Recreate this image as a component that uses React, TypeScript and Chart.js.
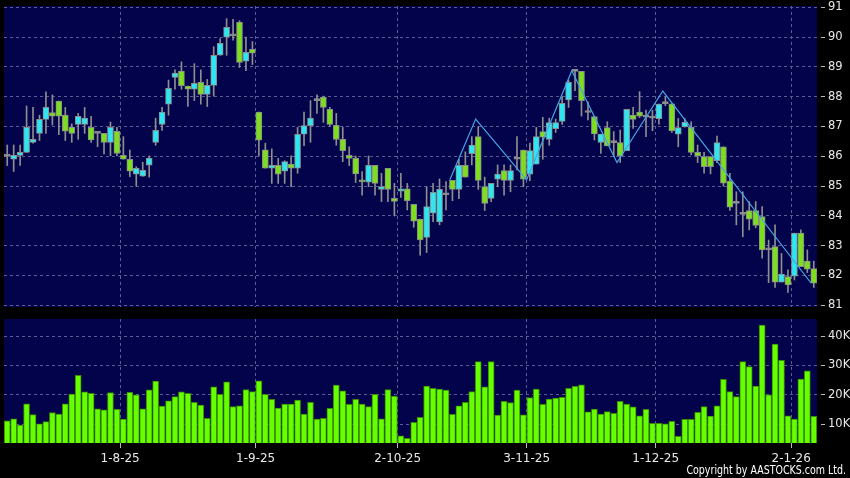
import React, { useEffect, useRef } from 'react';
import { Chart, registerables } from 'chart.js';

Chart.register(...registerables);

// ---- data (one entry per trading day, 8 Jul 2025 .. 7 Jan 2026) ----
const opens = [
  86.00, 85.90, 86.03, 86.13, 86.47, 86.77, 87.24, 87.47, 87.85, 87.38,
  86.97, 87.07, 87.07, 86.97, 86.77, 86.77, 86.47, 86.84, 86.03, 85.90,
  85.40, 85.33, 85.70, 86.47, 87.07, 87.75, 88.65, 88.86, 88.36, 88.25,
  88.48, 88.08, 88.38, 89.39, 90.00, 90.04, 90.50, 89.19, 89.59, 87.48,
  86.22, 85.60, 85.70, 85.50, 85.74, 85.60, 86.74, 87.03, 87.87, 87.99,
  87.58, 87.04, 86.57, 86.03, 85.93, 85.20, 85.13, 85.70, 84.89, 85.60,
  84.59, 84.83, 84.91, 84.39, 83.89, 83.28, 84.09, 83.80, 84.71, 85.19,
  84.89, 85.70, 86.09, 86.66, 84.98, 84.59, 85.23, 85.52, 85.19, 85.90,
  86.21, 85.40, 85.74, 86.83, 86.57, 86.93, 87.17, 87.89, 88.85, 88.85,
  87.47, 87.33, 86.47, 86.96, 86.46, 86.46, 86.19, 87.38, 87.48, 87.31,
  87.28, 87.26, 87.77, 87.76, 86.74, 86.99, 86.97, 86.13, 85.99, 85.99,
  85.85, 86.32, 85.17, 84.42, 84.05, 84.18, 84.18, 83.98, 82.86, 82.97,
  81.78, 81.96, 81.98, 83.42, 82.48, 82.23,
];
const highs = [
  86.38, 86.38, 86.38, 87.69, 87.64, 87.38, 88.16, 88.06, 87.85, 87.64,
  87.09, 87.44, 87.64, 87.34, 86.77, 86.77, 87.15, 86.97, 86.66, 86.21,
  85.65, 85.80, 86.01, 87.28, 87.64, 88.56, 88.90, 89.17, 88.36, 89.11,
  88.90, 88.58, 89.68, 89.95, 90.62, 90.60, 90.55, 90.00, 89.85, 87.48,
  86.44, 86.25, 85.93, 85.85, 86.02, 86.97, 87.48, 87.87, 88.06, 88.02,
  87.64, 87.44, 86.97, 86.32, 86.01, 85.49, 86.01, 85.70, 85.43, 85.60,
  85.09, 85.43, 85.09, 84.39, 83.89, 84.98, 85.09, 85.24, 85.15, 85.19,
  85.90, 86.15, 86.66, 87.00, 85.30, 85.09, 85.71, 85.71, 85.71, 86.66,
  86.21, 86.44, 86.97, 87.31, 87.28, 87.25, 88.00, 88.56, 88.90, 88.85,
  87.83, 87.33, 86.75, 87.16, 86.83, 86.88, 87.58, 87.64, 88.17, 87.55,
  87.55, 87.75, 88.00, 87.76, 87.27, 87.27, 87.16, 86.38, 86.13, 85.99,
  86.68, 86.32, 85.43, 84.81, 84.81, 84.48, 84.48, 84.31, 83.19, 83.70,
  82.74, 82.19, 83.42, 83.53, 82.86, 82.48,
];
const lows = [
  85.69, 85.49, 85.69, 86.13, 86.44, 86.53, 86.77, 87.05, 86.73, 86.53,
  86.47, 86.57, 86.77, 86.47, 86.32, 86.08, 86.02, 86.02, 85.90, 85.32,
  85.00, 85.33, 85.30, 86.37, 86.87, 87.38, 88.25, 88.25, 87.67, 87.87,
  87.75, 87.67, 88.02, 89.39, 89.39, 89.90, 88.98, 88.87, 89.08, 86.01,
  85.60, 85.09, 85.09, 85.09, 84.98, 85.43, 86.36, 86.47, 87.44, 87.14,
  87.02, 86.37, 85.82, 85.69, 85.12, 84.70, 84.98, 84.70, 84.48, 84.48,
  84.00, 84.62, 84.20, 83.62, 82.68, 82.77, 83.81, 83.70, 84.20, 84.51,
  84.58, 85.30, 85.71, 84.89, 84.18, 84.48, 84.98, 84.70, 84.81, 85.54,
  84.98, 85.18, 85.74, 85.90, 86.37, 86.80, 87.07, 87.64, 88.20, 87.35,
  87.22, 86.55, 86.10, 86.35, 85.99, 85.79, 86.19, 86.94, 87.30, 86.66,
  86.86, 87.08, 87.70, 86.80, 86.32, 86.98, 86.05, 85.79, 85.43, 85.41,
  85.79, 85.00, 84.18, 83.70, 83.30, 83.53, 83.60, 82.58, 81.76, 81.60,
  81.78, 81.43, 81.85, 82.30, 82.10, 81.60,
];
const closes = [
  86.00, 86.03, 86.13, 86.97, 86.57, 87.24, 87.64, 87.35, 87.35, 86.84,
  86.77, 87.34, 87.28, 86.55, 86.77, 86.47, 86.97, 86.10, 85.90, 85.50,
  85.60, 85.53, 85.94, 86.87, 87.48, 88.28, 88.79, 88.37, 88.25, 88.45,
  88.08, 88.38, 89.39, 89.79, 90.33, 90.04, 89.15, 89.49, 89.46, 86.54,
  85.60, 85.70, 85.40, 85.82, 85.60, 86.74, 87.03, 87.28, 87.87, 87.64,
  87.07, 86.57, 86.19, 85.93, 85.41, 85.14, 85.70, 85.09, 84.98, 84.89,
  84.49, 84.91, 84.51, 83.82, 83.19, 84.31, 84.79, 84.89, 84.71, 84.89,
  85.70, 85.30, 86.38, 85.19, 84.42, 85.09, 85.40, 85.19, 85.52, 85.90,
  85.23, 86.19, 86.66, 86.64, 87.13, 87.13, 87.78, 88.48, 88.85, 87.87,
  87.47, 86.75, 86.75, 86.35, 86.46, 86.01, 87.58, 87.24, 87.35, 87.31,
  87.28, 87.75, 87.77, 86.86, 86.96, 87.14, 86.13, 86.01, 85.65, 85.65,
  86.46, 85.10, 84.29, 84.42, 84.05, 83.89, 83.68, 82.86, 82.86, 81.78,
  82.05, 81.68, 83.42, 82.30, 82.21, 81.74,
];
// volume in thousands
const volumes = [
  11.2, 11.9, 9.7, 17.0, 13.3, 10.2, 10.9, 14.0, 13.5, 17.0,
  20.3, 26.6, 21.0, 20.5, 15.3, 14.9, 20.8, 15.1, 11.8, 20.9,
  20.0, 15.3, 21.7, 24.7, 16.2, 18.0, 19.4, 21.0, 20.5, 17.5,
  16.5, 12.0, 22.7, 20.2, 24.4, 16.0, 16.3, 21.8, 21.1, 24.8,
  20.2, 18.5, 15.5, 16.9, 16.9, 18.2, 13.5, 17.5, 11.8, 12.0,
  15.4, 23.3, 21.4, 16.8, 18.5, 16.9, 16.0, 20.2, 11.9, 21.8,
  19.6, 6.1, 5.2, 10.7, 12.4, 23.0, 22.2, 22.0, 21.6, 13.4,
  16.3, 17.5, 21.1, 31.3, 22.7, 31.3, 13.1, 17.8, 17.4, 21.6,
  13.2, 19.1, 22.0, 16.8, 18.6, 18.9, 19.2, 22.2, 22.9, 23.4,
  14.2, 15.2, 13.5, 14.3, 13.7, 17.8, 16.9, 15.9, 12.9, 15.1,
  10.3, 10.3, 10.2, 11.0, 5.9, 11.7, 11.7, 14.1, 16.0, 12.8,
  16.3, 25.3, 21.1, 19.4, 31.3, 29.6, 23.0, 43.7, 20.0, 37.3,
  31.7, 12.9, 11.8, 25.4, 28.2, 12.7,
];
// zigzag overlay (bar position, price)
const zigX = [68.6, 72.6, 80.5, 87.5, 94.5, 101.6, 124.6];
const zigY = [85.21, 87.25, 85.21, 88.87, 85.79, 88.19, 81.74];

// first trading day of each month (bar index) and its label
const monthStarts = [18, 39, 61, 81, 101, 122];
const monthLabels = ['1-8-25', '1-9-25', '2-10-25', '3-11-25', '1-12-25', '2-1-26'];
const priceTicks = [81, 82, 83, 84, 85, 86, 87, 88, 89, 90, 91];
const volumeTicks = [10, 20, 30, 40];

// ---- styles ----
const BG = '#03034b';
const GRID = '#5b5b96';
const UP = '#2fe6f0';
const DOWN = '#7ddd1f';
const FLAT = '#9a9a9a';
const WICK = '#8e8e8e';
const EDGE = '#8c8c8c';
const TXT = '#e8e8e8';

Chart.defaults.font.family = "'DejaVu Sans', sans-serif";
Chart.defaults.font.size = 12;

const plotBg = {
  id: 'plotBg',
  beforeDraw(chart: any) {
    const { ctx, chartArea: a } = chart;
    ctx.save();
    ctx.fillStyle = BG;
    ctx.fillRect(a.left, a.top, a.right - a.left, a.bottom - a.top);
    ctx.restore();
  },
};

const N = opens.length;

function noOverflow(s: any) {
  s.paddingTop = 0;
  s.paddingBottom = 0;
  s.paddingLeft = 0;
  s.paddingRight = 0;
}

function xScale(showLabels: boolean) {
  return {
    type: 'linear',
    min: -0.5,
    max: N - 0.5,
    offset: false,
    afterBuildTicks: (s: any) => {
      s.ticks = monthStarts.map((i) => ({ value: i - 0.5 }));
    },
    ticks: {
      display: showLabels,
      color: TXT,
      autoSkip: false,
      maxRotation: 0,
      minRotation: 0,
      padding: 4,
      callback: (_v: any, idx: number) => monthLabels[idx],
    },
    grid: {
      offset: false,
      color: GRID,
      drawTicks: showLabels,
      tickLength: 5,
      tickColor: '#bbbbbb',
    },
    border: { display: false, dash: [3, 3] },
    afterFit: (s: any) => {
      s.height = showLabels ? 35 : 0;
      noOverflow(s);
    },
  };
}

function yScale(min: number, max: number, ticks: number[], fmt: (v: number) => string) {
  return {
    type: 'linear',
    position: 'right',
    min,
    max,
    afterBuildTicks: (s: any) => {
      s.ticks = ticks.map((v) => ({ value: v }));
    },
    ticks: {
      color: TXT,
      padding: 3,
      font: { size: 11.5 },
      callback: (v: any) => fmt(Number(v)),
    },
    grid: {
      color: GRID,
      tickColor: '#bbbbbb',
      tickLength: 8,
      tickBorderDash: [4, 4],
      tickBorderDashOffset: 4,
    },
    border: { display: false, dash: [3, 3] },
    afterFit: (s: any) => {
      s.width = 33;
      noOverflow(s);
    },
  };
}

export default function App() {
  const priceRef = useRef<HTMLCanvasElement>(null);
  const volRef = useRef<HTMLCanvasElement>(null);

  useEffect(() => {
    const bodyColors = opens.map((o, i) =>
      closes[i] > o ? UP : closes[i] < o ? DOWN : FLAT
    );
    const price = new Chart(priceRef.current!, {
      type: 'bar',
      data: {
        datasets: [
          {
            type: 'line',
            data: zigX.map((x, i) => ({ x, y: zigY[i] })),
            borderColor: '#45a5e6',
            borderWidth: 1.2,
            pointRadius: 0,
            fill: false,
            order: 0,
          } as any,
          {
            type: 'bar',
            data: opens.map((o, i) => ({ x: i, y: [o, closes[i]] })),
            backgroundColor: bodyColors,
            borderColor: EDGE,
            borderWidth: 1,
            borderSkipped: false,
            barThickness: 6,
            minBarLength: 2,
            grouped: false,
            order: 1,
          } as any,
          {
            type: 'bar',
            data: lows.map((l, i) => ({ x: i, y: [l, highs[i]] })),
            backgroundColor: WICK,
            barThickness: 1,
            grouped: false,
            order: 2,
          } as any,
        ],
      },
      options: {
        responsive: false,
        animation: false,
        layout: { padding: { left: 4, top: 6, right: 0, bottom: 8 } },
        plugins: { legend: { display: false }, tooltip: { enabled: false } },
        scales: {
          x: xScale(false) as any,
          y: yScale(80.943, 91.044, priceTicks, (v) => String(v)) as any,
        },
      },
      plugins: [plotBg],
    });

    const vol = new Chart(volRef.current!, {
      type: 'bar',
      data: {
        datasets: [
          {
            data: volumes.map((v, i) => ({ x: i, y: v })),
            backgroundColor: '#66ff00',
            borderColor: '#3a8a00',
            borderWidth: 1,
            barThickness: 6,
            grouped: false,
          } as any,
        ],
      },
      options: {
        responsive: false,
        animation: false,
        layout: { padding: { left: 4, top: 4, right: 0, bottom: 0 } },
        plugins: { legend: { display: false }, tooltip: { enabled: false } },
        scales: {
          x: xScale(true) as any,
          y: yScale(3.65, 45.78, volumeTicks, (v) => `${v}K`) as any,
        },
      },
      plugins: [plotBg],
    });

    return () => {
      price.destroy();
      vol.destroy();
    };
  }, []);

  return (
    <div
      style={{
        position: 'fixed',
        left: 0,
        top: 0,
        width: 850,
        height: 478,
        background: '#000',
        overflow: 'hidden',
      }}
    >
      <canvas ref={priceRef} width={850} height={315} style={{ position: 'absolute', left: 0, top: 0 }} />
      <canvas ref={volRef} width={850} height={163} style={{ position: 'absolute', left: 0, top: 315 }} />
      <div
        style={{
          position: 'absolute',
          right: 4,
          top: 463,
          color: '#ffffff',
          fontFamily: "'DejaVu Sans', sans-serif",
          fontSize: 12,
          lineHeight: '14px',
          whiteSpace: 'nowrap',
          transform: 'scaleX(0.79)',
          transformOrigin: 'right top',
        }}
      >
        Copyright by AASTOCKS.com Ltd.
      </div>
    </div>
  );
}
